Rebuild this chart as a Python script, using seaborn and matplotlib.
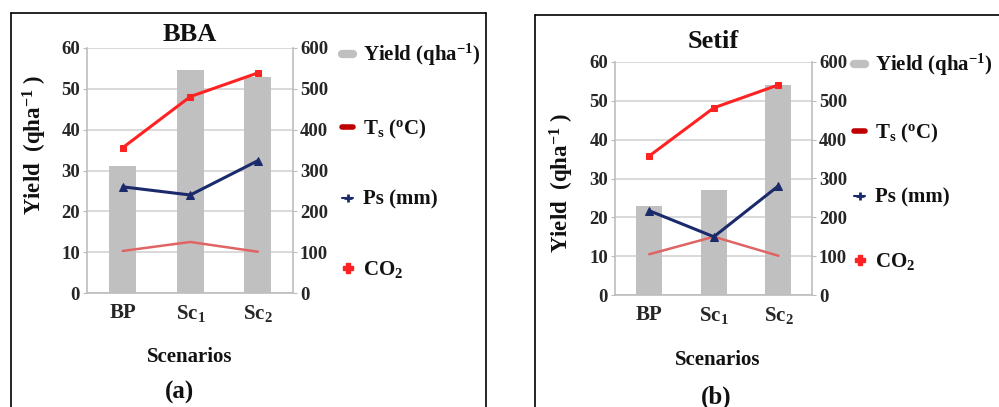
import matplotlib
matplotlib.use("Agg")
import matplotlib.pyplot as plt
import pandas as pd
import seaborn as sns
from matplotlib.lines import Line2D

# Values
scenarios = ["BP", "Sc$_1$", "Sc$_2$"]

bba_yield = [31, 54.5, 53]
bba_ts = [356, 481, 539]
bba_ps = [260, 240, 324]
bba_co2 = [103, 125, 101]

setif_yield = [23, 27, 54.2]
setif_ts = [358, 482, 541]
setif_ps = [217, 150, 281]
setif_co2 = [105, 150, 101]

BAR_C = "#c0c0c0"
TS_C = "#ff2222"
PS_C = "#1b2a6b"
CO2_C = "#e06464"
GRID_C = "#d9d9d9"
SPINE_C = "#bdbdbd"
TXT_C = "#111111"

sns.set_style("white")
plt.rcParams["font.family"] = ["Liberation Serif", "DejaVu Serif"]
plt.rcParams["font.weight"] = "bold"
plt.rcParams["mathtext.fontset"] = "custom"
plt.rcParams["mathtext.rm"] = "Liberation Serif:bold"
plt.rcParams["mathtext.it"] = "Liberation Serif:bold"
plt.rcParams["mathtext.bf"] = "Liberation Serif:bold"
plt.rcParams["text.color"] = TXT_C

W, H = 999, 407
fig = plt.figure(figsize=(W / 100, H / 100), dpi=100)


def fx(px):
    return px / W


def fy(py):
    return 1 - py / H


def draw_panel(rect, title, title_pad, yld, ts, ps, co2):
    df = pd.DataFrame({"scenario": scenarios, "yield": yld, "ts": ts, "ps": ps, "co2": co2})
    ax = fig.add_axes(rect)
    sns.barplot(data=df, x="scenario", y="yield", ax=ax, color=BAR_C, width=0.4,
                saturation=1, linewidth=0)
    ax.set_ylim(0, 60)
    ax.set_yticks(range(0, 61, 10))
    ax.set_xlim(-0.53, 2.52)
    ax.set_axisbelow(True)
    ax.grid(axis="y", color=GRID_C, lw=1.4)
    ax.set_xlabel("")
    ax.set_ylabel("")
    ax.set_xticks([0.5, 1.5], minor=True)
    ax.tick_params(axis="x", which="major", length=0, labelsize=15, pad=7)
    ax.tick_params(axis="x", which="minor", length=3, color=SPINE_C)
    ax.tick_params(axis="y", length=3, color=SPINE_C, labelsize=13.5, pad=2)
    for s in ["top", "right"]:
        ax.spines[s].set_visible(False)
    for s in ["left", "bottom"]:
        ax.spines[s].set_color(SPINE_C)
        ax.spines[s].set_linewidth(1.2)
    ax.set_title(title, fontsize=19, fontweight="bold", pad=title_pad)

    ax2 = ax.twinx()
    sns.lineplot(data=df, x="scenario", y="co2", ax=ax2, color=CO2_C, lw=1.8, sort=False)
    sns.lineplot(data=df, x="scenario", y="ps", ax=ax2, color=PS_C, lw=2.2, sort=False,
                 marker="^", markersize=6, markeredgecolor=PS_C)
    sns.lineplot(data=df, x="scenario", y="ts", ax=ax2, color=TS_C, lw=2.2, sort=False,
                 marker="s", markersize=5, markeredgecolor=TS_C)
    ax2.set_ylim(0, 600)
    ax2.set_yticks(range(0, 601, 100))
    ax2.set_xlim(-0.53, 2.52)
    ax2.set_ylabel("")
    ax2.set_xlabel("")
    ax2.tick_params(axis="y", length=3, color=SPINE_C, labelsize=13.5, pad=2)
    for s in ["top", "left", "bottom"]:
        ax2.spines[s].set_visible(False)
    ax2.spines["right"].set_color(SPINE_C)
    ax2.spines["right"].set_linewidth(1.2)
    return ax, ax2


def add_legend(ax2, x_left, y_top, spacing):
    handles = [
        Line2D([], [], color=BAR_C, lw=6),
        Line2D([], [], color="#c00000", lw=4),
        Line2D([], [], color=PS_C, lw=1.5, marker="+", markersize=6, markeredgewidth=2),
        Line2D([], [], color=TS_C, lw=0, marker="P", markersize=7),
    ]
    labels = ["Yield (qha$^{-1}$)", "T$_\\mathrm{s}$ ($^\\mathrm{o}$C)", "Ps (mm)", "CO$_2$"]
    ax2.legend(handles, labels, loc="upper left", bbox_to_anchor=(fx(x_left), fy(y_top)),
               bbox_transform=fig.transFigure, frameon=False, fontsize=15,
               labelspacing=spacing, handlelength=0.55, handletextpad=0.45,
               borderpad=0, borderaxespad=0)


# Panel (a) BBA
ax_a, ax2_a = draw_panel([fx(87), fy(293), fx(293 - 87), (293 - 48) / H], "BBA", 5,
                         bba_yield, bba_ts, bba_ps, bba_co2)
add_legend(ax2_a, 342, 42, 2.37)
fig.text(fx(35), fy(145), "Yield  (qha$^{-1}$ )", rotation=90, ha="center", va="center",
         fontsize=16.5, fontweight="bold")
fig.text(fx(190), fy(357), "Scenarios", ha="center", va="center", fontsize=15, fontweight="bold")
fig.text(fx(180), fy(392), "(a)", ha="center", va="center", fontsize=18, fontweight="bold")

# Panel (b) Setif
ax_b, ax2_b = draw_panel([fx(615), fy(295), fx(812 - 615), (295 - 62) / H], "Setif", 10,
                         setif_yield, setif_ts, setif_ps, setif_co2)
add_legend(ax2_b, 854, 52, 2.08)
fig.text(fx(562), fy(183), "Yield  (qha$^{-1}$ )", rotation=90, ha="center", va="center",
         fontsize=16.5, fontweight="bold")
fig.text(fx(718), fy(360), "Scenarios", ha="center", va="center", fontsize=15, fontweight="bold")
fig.text(fx(716), fy(397), "(b)", ha="center", va="center", fontsize=18, fontweight="bold")

# Panel frames
frame_kw = dict(color="black", lw=1.2, transform=fig.transFigure)
fig.add_artist(Line2D([fx(11), fx(11)], [fy(13), 0], **frame_kw))
fig.add_artist(Line2D([fx(11), fx(486)], [fy(13), fy(13)], **frame_kw))
fig.add_artist(Line2D([fx(486), fx(486)], [fy(13), 0], **frame_kw))
fig.add_artist(Line2D([fx(535), fx(535)], [fy(15), 0], **frame_kw))
fig.add_artist(Line2D([fx(535), 1], [fy(15), fy(15)], **frame_kw))

fig.savefig("out.png", dpi=100)
